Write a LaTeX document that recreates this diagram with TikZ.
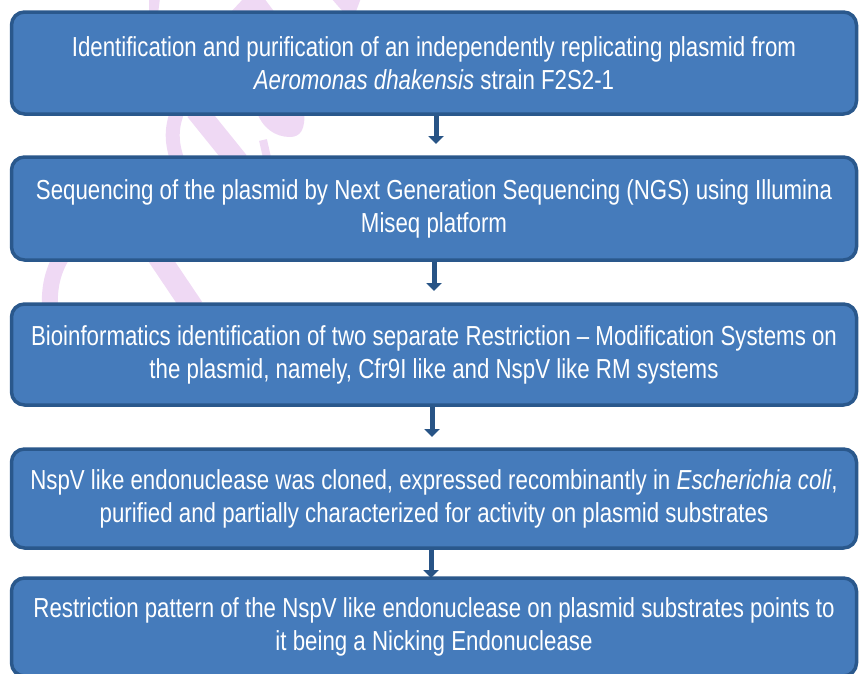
\documentclass[tikz,border=0pt]{standalone}
\usepackage{fontspec}
\setmainfont[FakeStretch=0.81]{Liberation Sans}
\usetikzlibrary{arrows.meta}
\definecolor{boxfill}{RGB}{69,123,187}
\definecolor{boxline}{RGB}{42,88,140}
\definecolor{arrowc}{RGB}{40,84,134}
\definecolor{wm}{RGB}{239,217,244}
\tikzset{
  stepbox/.style={rectangle, rounded corners=13pt, fill=boxfill, draw=boxline,
    line width=3.5pt, minimum width=845pt, text=white, align=center,
    font=\fontsize{27.5}{33}\selectfont, inner sep=0pt},
  flowarrow/.style={draw=arrowc, line width=5pt, -{Triangle[width=15pt,length=8pt]}},
  wmark/.style={draw=wm, line cap=butt}
}
\begin{document}
\begin{tikzpicture}[x=1pt,y=-1pt]
\useasboundingbox (0,0) rectangle (860,673);
% faint watermark pieces
\fill[wm] (149,-2) -- (160,-2) -- (158,14) -- (149,14) -- cycle;
\fill[wm] (244,-2) -- (264,-2) -- (276,14) -- (229,14) -- cycle;
\fill[wm] (331,-2) -- (361,-2) -- (355,14) -- (345,14) -- cycle;
\draw[wmark, line width=14pt] (178,110) .. controls (170,130) and (172,145) .. (178,162);
\draw[wmark, line width=22pt] (196,110) -- (238,162);
\fill[wm] (256,110) -- (304,110) .. controls (306,130) and (300,137) .. (290,137) .. controls (275,137) and (262,128) .. (256,110) -- cycle;
\draw[wmark, line width=8pt] (263,140) -- (268,162);
\draw[wmark, line width=16pt] (62,256) .. controls (52,272) and (49,290) .. (50,308);
\draw[wmark, line width=22pt] (158,256) -- (193,308);
% boxes
\node[stepbox, minimum height=102pt] (b1) at (434,63)
  {Identification and purification of an independently replicating plasmid from\\
   \textit{Aeromonas dhakensis} strain F2S2-1};
\node[stepbox, minimum height=103pt] (b2) at (434,208.5)
  {Sequencing of the plasmid by Next Generation Sequencing (NGS) using Illumina\\
   Miseq platform};
\node[stepbox, minimum height=101pt] (b3) at (434,354.5)
  {Bioinformatics identification of two separate Restriction -- Modification Systems on\\
   the plasmid, namely, Cfr9I like and NspV like RM systems};
\node[stepbox, minimum height=99pt] (b4) at (434,498.5)
  {NspV like endonuclease was cloned, expressed recombinantly in \textit{Escherichia coli},\\
   purified and partially characterized for activity on plasmid substrates};
\node[stepbox, minimum height=98pt] (b5) at (434,627)
  {Restriction pattern of the NspV like endonuclease on plasmid substrates points to\\
   it being a Nicking Endonuclease};
% arrows
\coordinate (e1) at (436,144);
\coordinate (e2) at (434,291);
\coordinate (e3) at (432,437);
\coordinate (e4) at (431,578);
\draw[flowarrow] (b1.south -| e1) -- (e1);
\draw[flowarrow] (b2.south -| e2) -- (e2);
\draw[flowarrow] (b3.south -| e3) -- (e3);
\draw[flowarrow] (b4.south -| e4) -- (e4);
\end{tikzpicture}
\end{document}
